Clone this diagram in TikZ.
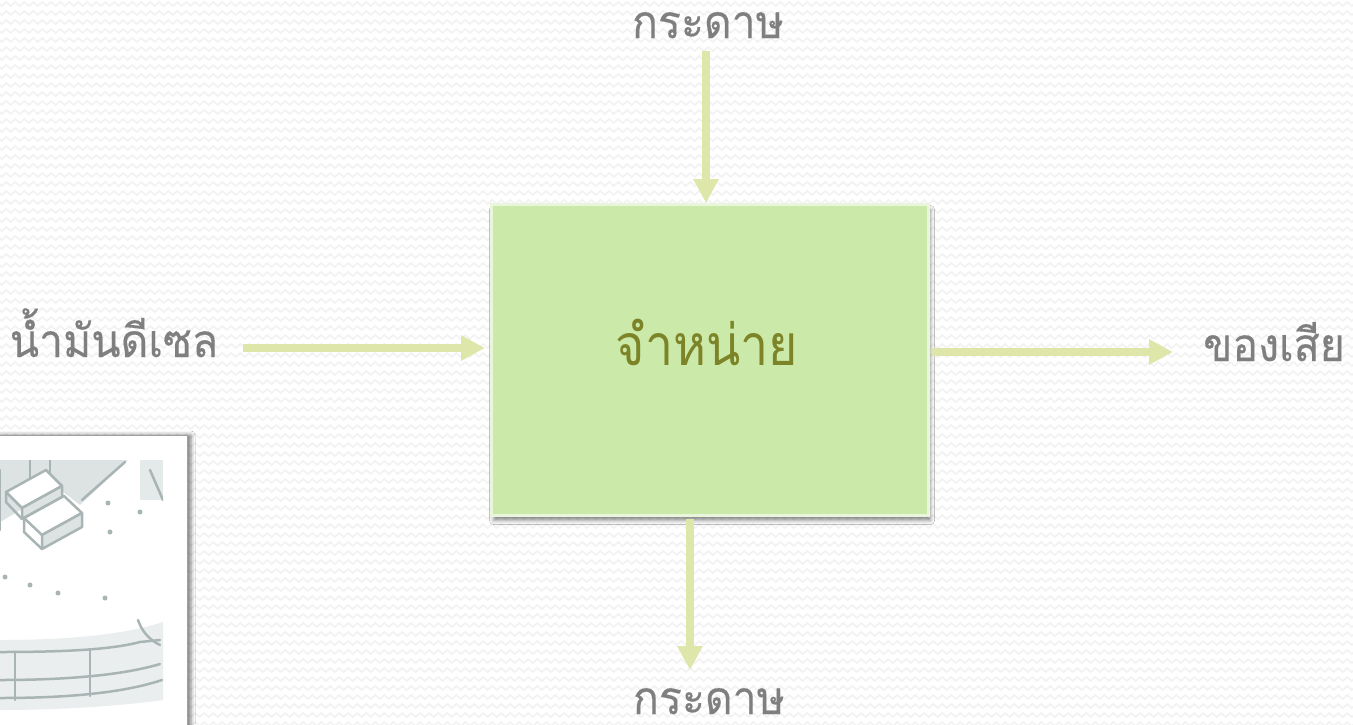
\documentclass[tikz,border=0pt]{standalone}
\usepackage{fontspec}
\newfontfamily\thaifont[Script=Thai]{Loma}
\newfontfamily\thailabel[Script=Thai,FakeBold=0.3]{Loma}
\usetikzlibrary{arrows.meta,shadows.blur,decorations.pathmorphing}
\definecolor{boxfill}{HTML}{CBEAAA}
\definecolor{boxedge}{HTML}{EAF6DC}
\definecolor{flow}{HTML}{DEE6A9}
\definecolor{labelgray}{HTML}{7F7F7F}
\definecolor{boxtext}{HTML}{7D8327}
\definecolor{zig}{HTML}{F2F2F2}
\definecolor{sketch}{HTML}{A9B4B4}
\definecolor{sketchlight}{HTML}{DDE3E3}
% narrowed label and caption lettering
\newcommand{\flowtext}[1]{\scalebox{0.93}[1]{#1}}
\newcommand{\boxcaption}[1]{\scalebox{0.88}[1]{#1}}
\begin{document}
\begin{tikzpicture}[x=1pt,y=-1pt,
  flowarrow/.style={draw=flow, line width=8pt, -{Triangle[width=24pt,length=24pt]}},
  flowlabel/.style={text=labelgray, font=\thailabel\fontsize{46}{50}\selectfont, inner sep=0pt,
    anchor=base, text depth=0pt},
  process/.style={fill=boxfill, draw=boxedge, line width=3pt, minimum width=437pt, minimum height=311pt,
    blur shadow={shadow xshift=2pt, shadow yshift=-5pt, shadow blur radius=4pt, shadow opacity=45}},
  caption/.style={text=boxtext, font=\thaifont\fontsize{57}{60}\selectfont, inner sep=0pt, anchor=base},
  zigrow/.style={draw=zig, line width=1.6pt, decorate, decoration={zigzag, segment length=9pt, amplitude=2pt}},
  sketchline/.style={draw=sketch, line width=2.5pt, line join=round, line cap=round}]
\useasboundingbox (0,0) rectangle (1353,724);
\fill[white] (0,0) rectangle (1353,724);
% faint zigzag texture of the page
\foreach \r in {0,...,80} {
  \draw[zigrow] (-5,{4+9*\r}) -- (1360,{4+9*\r});
}

% framed sketch in the lower left corner
\path[fill=white, draw=gray!75, line width=1pt,
  blur shadow={shadow xshift=4pt, shadow yshift=0pt, shadow blur radius=4pt, shadow opacity=50}]
  (-6,435) rectangle (187,740);
\begin{scope}
  \clip (0,460) rectangle (163,724);
  \fill[sketchlight] (0,460) -- (128,460) -- (80,505) -- (58,488) -- (0,522) -- cycle;
  \fill[sketchlight!80] (140,460) rectangle (163,500);
  \fill[sketchlight!60] (0,640) .. controls (60,640) and (120,636) .. (163,622) -- (163,700)
    .. controls (120,706) and (60,710) .. (0,710) -- cycle;
  \draw[sketchline] (0,470) -- (0,530);
  \draw[sketchline] (30,460) -- (30,480);
  \draw[sketchline] (50,460) -- (50,478);
  \draw[sketchline] (125,462) -- (82,500);
  \draw[sketchline, fill=white] (6,492) -- (46,470) -- (62,486) -- (22,508) -- cycle;
  \draw[sketchline, fill=sketchlight] (22,508) -- (62,486) -- (62,497) -- (22,519) -- cycle;
  \draw[sketchline] (6,492) -- (6,502) -- (22,519);
  \draw[sketchline, fill=white] (24,518) -- (64,496) -- (82,513) -- (42,535) -- cycle;
  \draw[sketchline, fill=sketchlight] (42,535) -- (82,513) -- (82,527) -- (42,549) -- cycle;
  \draw[sketchline] (24,518) -- (24,532) -- (42,549);
  \draw[sketchline] (150,470) -- (163,500);
  \foreach \p in {(5,577),(30,585),(58,593),(105,598),(108,503),(140,512),(110,532)}
    \fill[sketch] \p circle (2.5pt);
  % curved railing
  \draw[sketchline] (0,652) .. controls (60,652) and (110,650) .. (140,642);
  \draw[sketchline] (0,680) .. controls (60,680) and (120,676) .. (160,664);
  \draw[sketchline] (0,698) .. controls (60,698) and (120,694) .. (162,680);
  \draw[sketchline] (15,652) -- (15,700);
  \draw[sketchline] (90,650) -- (90,696);
  \draw[sketchline] (138,620) .. controls (142,632) and (150,640) .. (160,645);
  \draw[sketchline] (140,642) -- (160,640);
\end{scope}

% process box and its flows
\node[process] (box) at (710,360) {};
\node[caption] (boxlabel) at (707,365) {\boxcaption{จำหน่าย}};

\node[flowlabel] (top) at (708,38) {\flowtext{กระดาษ}};
\node[flowlabel] (bottom) at (709,714) {\flowtext{กระดาษ}};
\node[flowlabel] (input) at (114,357) {\flowtext{น้ำมันดีเซล}};
\node[flowlabel] (waste) at (1274,361) {\flowtext{ของเสีย}};

\coordinate (topstart) at (706,51);
\coordinate (botstart) at (690,519);
\coordinate (botend) at (690,670);
\coordinate (instart) at (243,348);
\coordinate (wastestart) at (932,352);
\coordinate (wasteend) at (1173,352);

\draw[flowarrow] (topstart) -- (topstart |- box.north);
\draw[flowarrow] (botstart) -- (botend);
\draw[flowarrow] (instart) -- ([xshift=-5pt]instart -| box.west);
\draw[flowarrow] (wastestart) -- (wasteend);
\end{tikzpicture}
\end{document}
